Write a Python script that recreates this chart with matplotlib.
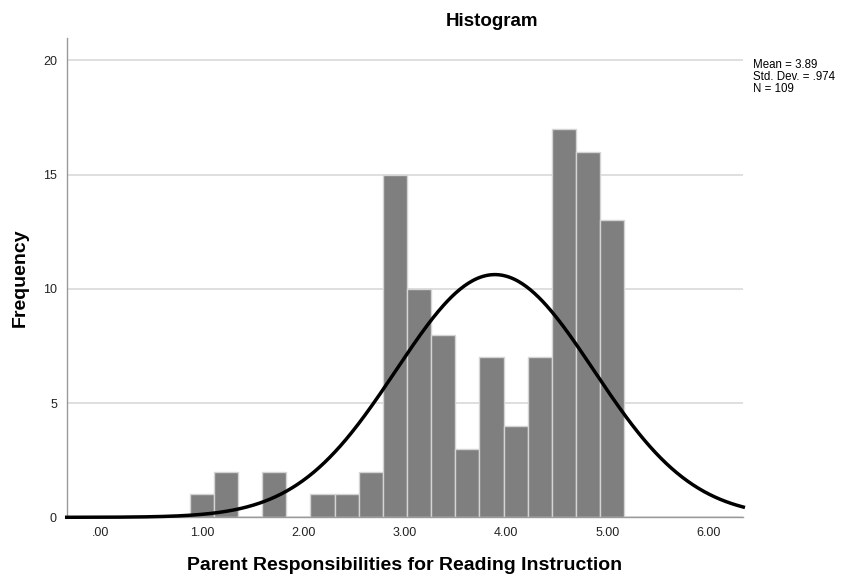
import matplotlib
matplotlib.use("Agg")
import matplotlib.pyplot as plt
import numpy as np

plt.rcParams["font.family"] = ["Liberation Sans", "DejaVu Sans"]

# histogram bins (SPSS style): first bin centred on 1.00
bin_start = 1.0
bin_width = 0.238
counts = [1, 2, 0, 2, 0, 1, 1, 2, 15, 10, 8, 3, 7, 4, 7, 17, 16, 13]

mean = 3.89
std_dev = 0.974
n_obs = 109

x_ticks = [0, 1, 2, 3, 4, 5, 6]
x_tick_labels = [".00", "1.00", "2.00", "3.00", "4.00", "5.00", "6.00"]
y_ticks = [0, 5, 10, 15, 20]

fig = plt.figure(figsize=(8.53, 5.76), dpi=100)
ax = fig.add_axes([0.0782, 0.1019, 0.7932, 0.8316])

centers = bin_start + bin_width * np.arange(len(counts))
ax.bar(centers, counts, width=bin_width, color="#7f7f7f",
       edgecolor="#d4d4d4", linewidth=1.0, zorder=2)

# fitted normal curve scaled to the histogram
x_min, x_max = -0.333, 6.34
xs = np.linspace(x_min, x_max, 500)
pdf = np.exp(-0.5 * ((xs - mean) / std_dev) ** 2) / (std_dev * np.sqrt(2 * np.pi))
ax.plot(xs, pdf * n_obs * bin_width, color="black", linewidth=2.5, zorder=3,
        clip_on=False)

ax.set_xlim(x_min, x_max)
ax.set_ylim(0, 20.97)
ax.set_xticks(x_ticks)
ax.set_xticklabels(x_tick_labels)
ax.set_yticks(y_ticks)
ax.yaxis.grid(True, color="#d9d9d9", linewidth=1.2, zorder=0)
ax.set_axisbelow(True)
ax.tick_params(length=0, labelsize=9, colors="#222222")
ax.tick_params(axis="y", pad=7)
ax.tick_params(axis="x", pad=7)

for side in ["top", "right"]:
    ax.spines[side].set_visible(False)
for side in ["left", "bottom"]:
    ax.spines[side].set_color("#9a9a9a")
    ax.spines[side].set_linewidth(1.0)

ax.set_xlabel("Parent Responsibilities for Reading Instruction",
              fontsize=14, fontweight="bold", labelpad=13)
ax.set_ylabel("Frequency", fontsize=14, fontweight="bold", labelpad=10)

fig.text(0.577, 0.962, "Histogram", fontsize=13.5, fontweight="bold",
         ha="center", va="center")

stats = [f"Mean = {mean:.2f}", f"Std. Dev. = {std_dev:.3f}".replace("0.", "."),
         f"N = {n_obs}"]
for i, line in enumerate(stats):
    fig.text(0.8828, 0.8866 - i * 0.0208, line, fontsize=8.3, ha="left", va="center")

fig.savefig("out.png", dpi=100)
